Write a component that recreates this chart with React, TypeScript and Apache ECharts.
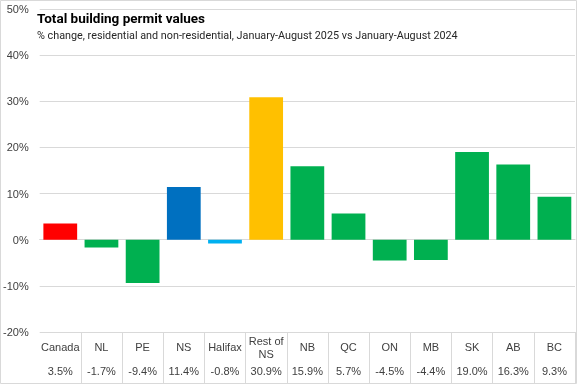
import React, { useEffect, useRef } from "react";
import * as echarts from "echarts";

const categories = ["Canada", "NL", "PE", "NS", "Halifax", "Rest of\nNS", "NB", "QC", "ON", "MB", "SK", "AB", "BC"];
const values = [3.5, -1.7, -9.4, 11.4, -0.8, 30.9, 15.9, 5.7, -4.5, -4.4, 19.0, 16.3, 9.3];
const valueLabels = ["3.5%", "-1.7%", "-9.4%", "11.4%", "-0.8%", "30.9%", "15.9%", "5.7%", "-4.5%", "-4.4%", "19.0%", "16.3%", "9.3%"];
const barColors = ["#FF0000", "#00B050", "#00B050", "#0070C0", "#00B0F0", "#FFC000", "#00B050", "#00B050", "#00B050", "#00B050", "#00B050", "#00B050", "#00B050"];
const titleText = "Total building permit values";
const subtitleText = "% change, residential and non-residential, January-August 2025 vs January-August 2024";

export default function App() {
  const ref = useRef<HTMLDivElement>(null);
  useEffect(() => {
    if (!ref.current) return;
    const chart = echarts.init(ref.current, null, { renderer: "svg" });
    const font = "Liberation Sans, Arial, sans-serif";
    chart.setOption({
      animation: false,
      textStyle: { fontFamily: font },
      title: {
        text: titleText,
        subtext: subtitleText,
        left: 32,
        top: 6,
        itemGap: 5,
        textStyle: { fontSize: 13.5, fontWeight: "bold", color: "#000", fontFamily: "Roboto, sans-serif" },
        subtextStyle: { fontSize: 10.8, color: "#262626", fontFamily: "Roboto, sans-serif" },
      },
      graphic: [
        {
          type: "rect",
          shape: { x: 0.5, y: 0.5, width: 576, height: 383 },
          style: { fill: "none", stroke: "#d9d9d9", lineWidth: 1 },
          silent: true,
        },
      ],
      grid: { left: 38, right: 2, top: 9, bottom: 53 },
      xAxis: [
        {
          type: "category",
          data: categories,
          axisLine: { show: true, onZero: true, lineStyle: { color: "#d9d9d9" } },
          axisTick: { show: false },
          axisLabel: {
            interval: 0,
            margin: 15,
            verticalAlign: "middle",
            color: "#404040",
            fontSize: 11,
            lineHeight: 13,
          },
        },
        {
          type: "category",
          data: valueLabels,
          position: "bottom",
          axisLine: { show: false, onZero: false },
          axisTick: {
            show: true,
            length: 51,
            interval: (index: number) => index > 0,
            lineStyle: { color: "#d9d9d9" },
          },
          axisLabel: {
            interval: 0,
            margin: 39,
            verticalAlign: "middle",
            color: "#404040",
            fontSize: 11,
          },
        },
      ],
      yAxis: {
        type: "value",
        min: -20,
        max: 50,
        interval: 10,
        axisLine: { show: false },
        axisTick: { show: false },
        splitLine: { lineStyle: { color: "#d9d9d9" } },
        axisLabel: { formatter: "{value}%", color: "#404040", fontSize: 11, margin: 11 },
      },
      series: [
        {
          type: "bar",
          xAxisIndex: 0,
          data: values.map((v, i) => ({ value: v, itemStyle: { color: barColors[i] } })),
          barCategoryGap: "18%",
        },
      ],
    });
    return () => chart.dispose();
  }, []);
  return <div ref={ref} style={{ position: "fixed", left: 0, top: 0, width: 577, height: 385 }} />;
}
